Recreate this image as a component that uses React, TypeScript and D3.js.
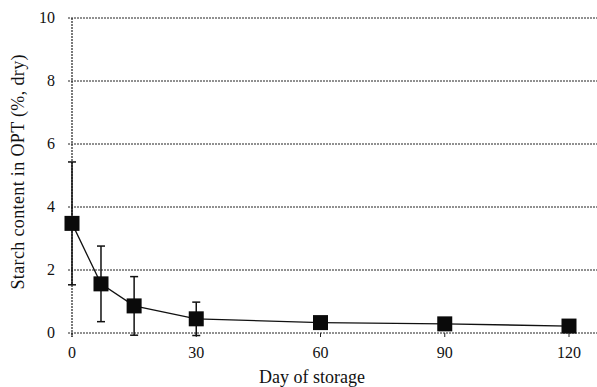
import React from "react";
import * as d3 from "d3";

const days = [0, 7, 15, 30, 60, 90, 120];
const starch = [3.48, 1.56, 0.86, 0.45, 0.33, 0.29, 0.22];
const errors = [1.95, 1.2, 0.93, 0.53, 0.05, 0.05, 0.05];
const xTicks = [0, 30, 60, 90, 120];
const yTicks = [0, 2, 4, 6, 8, 10];

export default function App() {
  const W = 597, H = 387;
  const x = d3.scaleLinear().domain([0, 120]).range([72, 569]);
  const y = d3.scaleLinear().domain([0, 10]).range([333, 18]);
  const line = d3.line<number>().x((_, i) => x(days[i])).y((d) => y(d));
  const font = "'Liberation Serif', 'Times New Roman', serif";
  return (
    <svg width={W} height={H} style={{ position: "absolute", left: 0, top: 0, background: "#fff" }}>
      {yTicks.map((t) => (
        <g key={t}>
          <line x1={68} x2={597} y1={y(t)} y2={y(t)} stroke="#222" strokeWidth={1} strokeDasharray="2,1" />
          <text x={55} y={y(t) + 5} textAnchor="end" fontFamily={font} fontSize={16} fill="#111">{t}</text>
        </g>
      ))}
      <line x1={x(0)} x2={x(0)} y1={y(10)} y2={y(0) + 4} stroke="#222" strokeWidth={1.2} strokeDasharray="2,1" />
      {xTicks.map((t) => (
        <g key={t}>
          <line x1={x(t)} x2={x(t)} y1={y(0)} y2={y(0) + 4} stroke="#222" />
          <text x={x(t)} y={358} textAnchor="middle" fontFamily={font} fontSize={16} fill="#111">{t}</text>
        </g>
      ))}
      <path d={line(starch) || ""} fill="none" stroke="#111" strokeWidth={1.3} />
      {days.map((d, i) => (
        <g key={d}>
          <line x1={x(d)} x2={x(d)} y1={y(starch[i] + errors[i])} y2={y(starch[i] - errors[i])} stroke="#111" strokeWidth={1.5} />
          <line x1={x(d) - 4} x2={x(d) + 4} y1={y(starch[i] + errors[i])} y2={y(starch[i] + errors[i])} stroke="#111" strokeWidth={1.5} />
          <line x1={x(d) - 4} x2={x(d) + 4} y1={y(starch[i] - errors[i])} y2={y(starch[i] - errors[i])} stroke="#111" strokeWidth={1.5} />
          <rect x={x(d) - 7.5} y={y(starch[i]) - 7.5} width={15} height={15} fill="#0a0a0a" />
        </g>
      ))}
      <text x={312} y={383} textAnchor="middle" fontFamily={font} fontSize={18} fill="#111">Day of storage</text>
      <text transform={`translate(24, 172) rotate(-90)`} textAnchor="middle" fontFamily={font} fontSize={18} textLength={235} fill="#111">Starch content in OPT (%, dry)</text>
    </svg>
  );
}
